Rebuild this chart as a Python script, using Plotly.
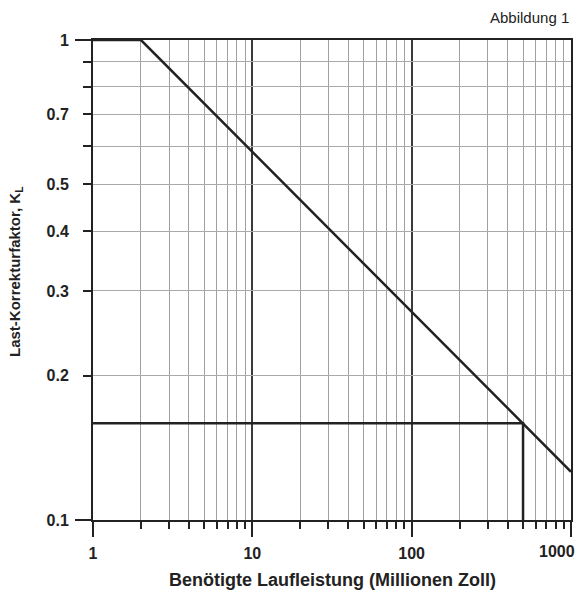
import math
import plotly.graph_objects as go

# Data
curve_x = [1, 2, 1000]
curve_y = [1.0, 1.0, 0.126]
example_x = [1, 500, 500]
example_y = [0.159, 0.159, 0.1]

x_major = [1, 10, 100, 1000]
x_major_text = ["1", "10", "100", "1000"]
x_minor = [m * 10 ** k for k in range(3) for m in range(2, 10)]
y_ticks = [0.1, 0.2, 0.3, 0.4, 0.5, 0.6, 0.7, 0.8, 0.9, 1.0]
y_text = ["0.1", "0.2", "0.3", "0.4", "0.5", "", "0.7", "", "", "1"]
y_long = [0.1, 1.0]

FONT = "Liberation Sans Narrow, Arial Narrow, sans-serif"
DARK = "#222222"

fig = go.Figure()
fig.add_trace(go.Scatter(x=example_x, y=example_y, mode="lines",
                         line=dict(color=DARK, width=2.5), showlegend=False,
                         cliponaxis=False))
fig.add_trace(go.Scatter(x=curve_x, y=curve_y, mode="lines",
                         line=dict(color=DARK, width=2.5), showlegend=False,
                         cliponaxis=False))

# last x tick label is drawn as an annotation (it sits left of its tick, as in the original)
axis_text = x_major_text[:-1] + [""]

fig.update_layout(
    width=581, height=592,
    margin=dict(l=93, r=8, t=40, b=72),
    paper_bgcolor="white", plot_bgcolor="white",
    font=dict(family=FONT, color=DARK),
    xaxis=dict(
        type="log", range=[0, 3],
        tickvals=x_major, ticktext=axis_text,
        ticks="outside", ticklen=15, tickwidth=1.5, tickcolor=DARK,
        tickfont=dict(size=16, weight="bold", family=FONT, color=DARK),
        ticklabelstandoff=3,
        showgrid=True, gridcolor="#3a3a3a", gridwidth=2,
        showline=True, linecolor=DARK, linewidth=2, mirror=True,
        zeroline=False,
        minor=dict(tickvals=x_minor, ticks="outside", ticklen=7, tickwidth=1.5,
                   tickcolor=DARK, showgrid=True, gridcolor="#a0a0a0", gridwidth=1),
    ),
    yaxis=dict(
        type="log", range=[-1, 0],
        tickvals=y_ticks, ticktext=y_text,
        ticks="outside", ticklen=8, tickwidth=1.5, tickcolor=DARK,
        tickfont=dict(size=16, weight="bold", family=FONT, color=DARK),
        ticklabelstandoff=11,
        showgrid=True, gridcolor="#aaaaaa", gridwidth=1,
        showline=True, linecolor=DARK, linewidth=2, mirror=True,
        zeroline=False,
    ),
    yaxis2=dict(
        type="log", range=[-1, 0], overlaying="y", side="left",
        tickvals=y_long, ticks="outside", ticklen=17, tickwidth=1.5,
        tickcolor=DARK, showticklabels=False, showgrid=False,
        showline=False, zeroline=False,
    ),
    annotations=[
        dict(text="Abbildung 1", xref="paper", yref="paper", x=1.0, y=1.0,
             xanchor="right", yanchor="bottom", yshift=12, showarrow=False,
             font=dict(size=15, family=FONT, color=DARK)),
        dict(text=x_major_text[-1], xref="x", yref="paper",
             x=math.log10(x_major[-1]), y=0, xanchor="right", yanchor="middle",
             xshift=6, yshift=-31, showarrow=False,
             font=dict(size=16, weight="bold", family=FONT, color=DARK)),
        dict(text="Benötigte Laufleistung (Millionen Zoll)", xref="paper",
             yref="paper", x=0.5, y=0, xanchor="center", yanchor="middle",
             yshift=-60, showarrow=False,
             font=dict(size=18, weight="bold", family=FONT, color=DARK)),
        dict(text="Last-Korrekturfaktor, K<sub>L</sub>", xref="paper",
             yref="paper", x=0, y=0.5, xanchor="center", yanchor="middle",
             xshift=-78, yshift=8, textangle=-90, showarrow=False,
             font=dict(size=15, weight="bold", family=FONT, color=DARK)),
    ],
)
# invisible trace on yaxis2 so the long end ticks render
fig.add_trace(go.Scatter(x=[1], y=[1], yaxis="y2", mode="markers",
                         marker=dict(opacity=0), showlegend=False, hoverinfo="skip"))

fig.write_html("out.html", config={"displayModeBar": False},
               post_script="document.body.style.margin='0';document.body.style.padding='0';")
